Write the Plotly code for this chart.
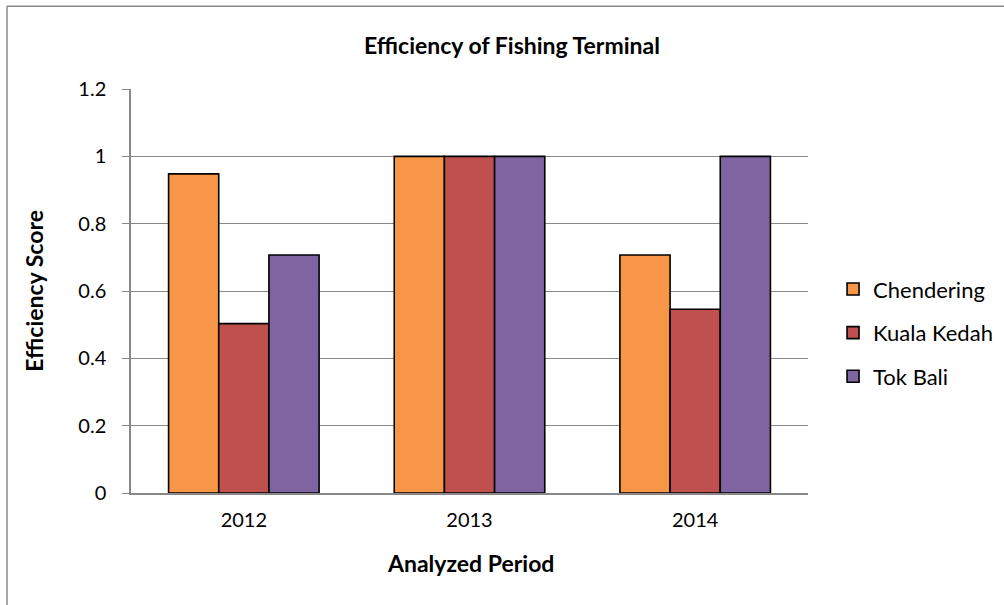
import plotly.graph_objects as go

# Efficiency scores per fishing terminal and year
periods = ["2012", "2013", "2014"]
chendering = [0.948, 1.0, 0.707]
kuala_kedah = [0.503, 1.0, 0.546]
tok_bali = [0.707, 1.0, 1.0]

series = [
    ("Chendering", chendering, "#F79646"),
    ("Kuala Kedah", kuala_kedah, "#C0504D"),
    ("Tok Bali", tok_bali, "#8064A2"),
]

FONT = "Lato, 'Open Sans', sans-serif"
GRID = "#888888"

fig = go.Figure()
for i, (name, vals, color) in enumerate(series):
    fig.add_trace(go.Bar(
        x=periods, y=vals, name=name, legendgroup=f"g{i}",
        marker=dict(color=color, line=dict(color="#000000", width=1.6)),
    ))

fig.update_layout(
    width=1004, height=605,
    margin=dict(l=131, r=196, t=89, b=112, autoexpand=False),
    paper_bgcolor="white", plot_bgcolor="white",
    font=dict(family=FONT, size=20, color="#000000"),
    barmode="group", bargap=0.333, bargroupgap=0,
    showlegend=True,
    legend=dict(
        x=1.037, y=(493.3 - 333) / 404, xanchor="left", yanchor="middle",
        font=dict(family=FONT, size=22, color="#000000"),
        tracegroupgap=12, itemwidth=30,
        bgcolor="rgba(0,0,0,0)",
    ),
    xaxis=dict(
        type="category", showgrid=False, ticks="",
        showline=True, linecolor=GRID, linewidth=1.5,
        tickfont=dict(family=FONT, size=20), ticklabelstandoff=8,
    ),
    yaxis=dict(
        range=[0, 1.2], tickvals=[0, 0.2, 0.4, 0.6, 0.8, 1, 1.2],
        ticktext=["0", "0.2", "0.4", "0.6", "0.8", "1", "1.2"],
        showgrid=True, gridcolor=GRID, gridwidth=1.2,
        showline=True, linecolor=GRID, linewidth=1.5,
        ticks="outside", ticklen=7, tickcolor=GRID, tickwidth=1.2,
        tickfont=dict(family=FONT, size=20), ticklabelstandoff=12,
        zeroline=False,
    ),
    annotations=[
        dict(text="<b>Efficiency of Fishing Terminal</b>", xref="paper", yref="paper",
             x=(512 - 131) / 677, y=(493.3 - 45) / 404, xanchor="center", yanchor="middle",
             showarrow=False, font=dict(family=FONT, size=23)),
        dict(text="<b>Analyzed Period</b>", xref="paper", yref="paper",
             x=(470 - 131) / 677, y=(493.3 - 563) / 404, xanchor="center", yanchor="middle",
             showarrow=False, font=dict(family=FONT, size=23)),
        dict(text="<b>Efficiency Score</b>", xref="paper", yref="paper",
             x=(34 - 131) / 677, y=(493.3 - 291) / 404, xanchor="center", yanchor="middle",
             textangle=-90, showarrow=False, font=dict(family=FONT, size=23)),
    ],
    shapes=[
        # chart-area frame along the top and left edges
        dict(type="line", xref="paper", yref="paper",
             x0=(7 - 131) / 677, x1=1.4, y0=(493.3 - 6.5) / 404, y1=(493.3 - 6.5) / 404,
             line=dict(color="#8a8a8a", width=1.5)),
        dict(type="line", xref="paper", yref="paper",
             x0=(7 - 131) / 677, x1=(7 - 131) / 677, y0=(493.3 - 6.5) / 404, y1=-0.4,
             line=dict(color="#8a8a8a", width=1.5)),
    ],
)

fig.write_html("out.html")
